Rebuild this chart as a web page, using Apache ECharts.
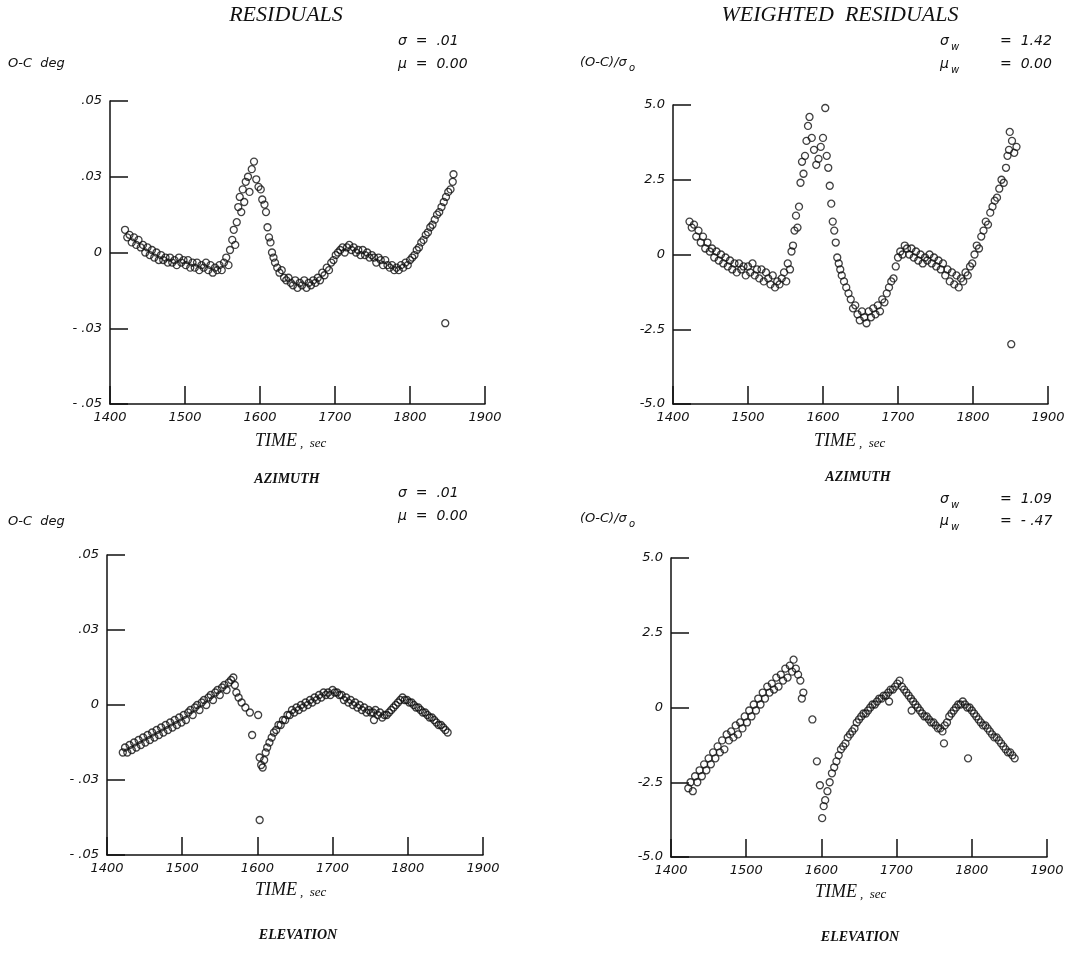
<!DOCTYPE html>
<html><head><meta charset="utf-8">
<script src="https://cdn.jsdelivr.net/npm/echarts@6/dist/echarts.min.js"></script>
<style>html,body{margin:0;padding:0;background:#fff}#c{width:1088px;height:959px}</style>
</head><body><div id="c"></div>
<script>
// ---- tick labels ----
const xTickLabels = ['1400','1500','1600','1700','1800','1900'];
const degTickLabels = ['- .05','- .03','0','.03','.05'];
const wTickLabels = ['-5.0','-2.5','0','2.5','5.0'];

// ---- data: [time sec, residual] ----
const azRes = [[1420,0.009],[1423,0.006],[1426,0.007],[1429,0.004],[1432,0.006],[1435,0.003],[1438,0.005],[1441,0.002],[1444,0.003],[1447,0.000],[1450,0.002],[1453,-0.001],[1456,0.001],[1459,-0.002],[1462,0.000],[1465,-0.003],[1468,-0.001],[1471,-0.003],[1474,-0.002],[1477,-0.004],[1480,-0.002],[1483,-0.004],[1486,-0.003],[1489,-0.005],[1492,-0.002],[1495,-0.004],[1498,-0.003],[1501,-0.005],[1504,-0.003],[1507,-0.006],[1510,-0.004],[1513,-0.006],[1516,-0.004],[1519,-0.007],[1522,-0.005],[1525,-0.006],[1528,-0.004],[1531,-0.007],[1534,-0.005],[1537,-0.008],[1540,-0.006],[1543,-0.007],[1546,-0.005],[1549,-0.007],[1552,-0.004],[1555,-0.002],[1558,-0.005],[1560,0.001],[1563,0.005],[1565,0.009],[1567,0.003],[1569,0.012],[1571,0.018],[1573,0.022],[1575,0.016],[1577,0.025],[1579,0.020],[1581,0.028],[1584,0.030],[1586,0.024],[1589,0.033],[1592,0.036],[1595,0.029],[1598,0.026],[1601,0.025],[1603,0.021],[1606,0.019],[1608,0.016],[1610,0.010],[1612,0.006],[1614,0.004],[1616,0.000],[1618,-0.002],[1620,-0.004],[1623,-0.006],[1626,-0.008],[1629,-0.007],[1632,-0.010],[1635,-0.011],[1638,-0.010],[1641,-0.012],[1644,-0.013],[1647,-0.011],[1650,-0.014],[1653,-0.012],[1656,-0.013],[1659,-0.011],[1662,-0.014],[1665,-0.012],[1668,-0.013],[1671,-0.011],[1674,-0.012],[1677,-0.010],[1680,-0.011],[1683,-0.008],[1686,-0.009],[1689,-0.006],[1692,-0.007],[1695,-0.004],[1698,-0.003],[1701,-0.001],[1704,0.000],[1707,0.001],[1710,0.002],[1713,0.000],[1716,0.002],[1719,0.003],[1722,0.001],[1725,0.002],[1728,0.000],[1731,0.001],[1734,-0.001],[1737,0.001],[1740,-0.001],[1743,0.000],[1746,-0.002],[1749,-0.001],[1752,-0.002],[1755,-0.004],[1758,-0.002],[1761,-0.003],[1764,-0.005],[1767,-0.003],[1770,-0.005],[1773,-0.006],[1776,-0.005],[1779,-0.007],[1782,-0.006],[1785,-0.007],[1788,-0.005],[1791,-0.006],[1794,-0.004],[1797,-0.005],[1800,-0.003],[1803,-0.002],[1806,-0.001],[1809,0.001],[1812,0.002],[1815,0.004],[1818,0.005],[1821,0.007],[1824,0.008],[1827,0.010],[1830,0.011],[1833,0.013],[1836,0.015],[1839,0.016],[1842,0.018],[1845,0.020],[1848,0.022],[1851,0.024],[1854,0.025],[1857,0.028],[1858,0.031],[1847,-0.028]];

const azWRes = [[1422,1.1],[1425,0.9],[1428,1.0],[1431,0.6],[1434,0.8],[1437,0.4],[1440,0.6],[1443,0.2],[1446,0.4],[1449,0.1],[1452,0.2],[1455,-0.1],[1458,0.1],[1461,-0.2],[1464,0.0],[1467,-0.3],[1470,-0.1],[1473,-0.4],[1476,-0.2],[1479,-0.5],[1482,-0.3],[1485,-0.6],[1488,-0.3],[1491,-0.5],[1494,-0.4],[1497,-0.7],[1500,-0.4],[1503,-0.6],[1506,-0.3],[1509,-0.7],[1512,-0.5],[1515,-0.8],[1518,-0.5],[1521,-0.9],[1524,-0.6],[1527,-0.8],[1530,-1.0],[1533,-0.7],[1536,-1.1],[1539,-0.9],[1542,-1.0],[1545,-0.8],[1548,-0.6],[1551,-0.9],[1553,-0.3],[1556,-0.5],[1558,0.1],[1560,0.3],[1562,0.8],[1564,1.3],[1566,0.9],[1568,1.6],[1570,2.4],[1572,3.1],[1574,2.7],[1576,3.3],[1578,3.8],[1580,4.3],[1582,4.6],[1585,3.9],[1588,3.5],[1591,3.0],[1594,3.2],[1597,3.6],[1600,3.9],[1603,4.9],[1605,3.3],[1607,2.9],[1609,2.3],[1611,1.7],[1613,1.1],[1615,0.8],[1617,0.4],[1619,-0.1],[1621,-0.3],[1623,-0.5],[1625,-0.7],[1628,-0.9],[1631,-1.1],[1634,-1.3],[1637,-1.5],[1640,-1.8],[1643,-1.7],[1646,-2.0],[1649,-2.2],[1652,-1.9],[1655,-2.1],[1658,-2.3],[1661,-1.9],[1664,-2.1],[1667,-1.8],[1670,-2.0],[1673,-1.7],[1676,-1.9],[1679,-1.5],[1682,-1.6],[1685,-1.3],[1688,-1.1],[1691,-0.9],[1694,-0.8],[1697,-0.4],[1700,-0.1],[1703,0.1],[1706,0.0],[1709,0.3],[1712,0.2],[1715,0.0],[1718,0.2],[1721,-0.1],[1724,0.1],[1727,-0.2],[1730,0.0],[1733,-0.3],[1736,-0.1],[1739,-0.2],[1742,0.0],[1745,-0.3],[1748,-0.1],[1751,-0.4],[1754,-0.2],[1757,-0.5],[1760,-0.3],[1763,-0.7],[1766,-0.5],[1769,-0.9],[1772,-0.6],[1775,-1.0],[1778,-0.7],[1781,-1.1],[1784,-0.8],[1787,-0.9],[1790,-0.6],[1793,-0.7],[1796,-0.4],[1799,-0.3],[1802,0.0],[1805,0.3],[1808,0.2],[1811,0.6],[1814,0.8],[1817,1.1],[1820,1.0],[1823,1.4],[1826,1.6],[1829,1.8],[1832,1.9],[1835,2.2],[1838,2.5],[1841,2.4],[1844,2.9],[1846,3.3],[1848,3.5],[1849,4.1],[1852,3.8],[1855,3.4],[1858,3.6],[1851,-3.0]];

const elRes = [[1421,-0.019],[1424,-0.017],[1427,-0.019],[1430,-0.016],[1433,-0.018],[1436,-0.015],[1439,-0.017],[1442,-0.014],[1445,-0.016],[1448,-0.013],[1451,-0.015],[1454,-0.012],[1457,-0.014],[1460,-0.011],[1463,-0.013],[1466,-0.010],[1469,-0.012],[1472,-0.009],[1475,-0.011],[1478,-0.008],[1481,-0.010],[1484,-0.007],[1487,-0.009],[1490,-0.006],[1493,-0.008],[1496,-0.005],[1499,-0.007],[1502,-0.004],[1505,-0.006],[1508,-0.003],[1511,-0.002],[1514,-0.004],[1517,-0.001],[1520,0.000],[1523,-0.002],[1526,0.001],[1529,0.002],[1532,0.000],[1535,0.003],[1538,0.004],[1541,0.002],[1544,0.005],[1547,0.006],[1550,0.004],[1553,0.007],[1556,0.008],[1559,0.006],[1562,0.009],[1565,0.010],[1568,0.011],[1570,0.008],[1572,0.005],[1575,0.003],[1579,0.001],[1584,-0.001],[1590,-0.003],[1593,-0.012],[1601,-0.004],[1603,-0.021],[1605,-0.024],[1607,-0.025],[1609,-0.022],[1611,-0.019],[1613,-0.017],[1616,-0.015],[1619,-0.013],[1622,-0.011],[1625,-0.010],[1628,-0.008],[1631,-0.008],[1634,-0.006],[1637,-0.006],[1640,-0.004],[1643,-0.004],[1646,-0.002],[1649,-0.003],[1652,-0.001],[1655,-0.002],[1658,0.000],[1661,-0.001],[1664,0.001],[1667,0.000],[1670,0.002],[1673,0.001],[1676,0.003],[1679,0.002],[1682,0.004],[1685,0.003],[1688,0.005],[1691,0.004],[1694,0.005],[1697,0.004],[1700,0.006],[1703,0.005],[1706,0.005],[1709,0.004],[1712,0.004],[1715,0.002],[1718,0.003],[1721,0.001],[1724,0.002],[1727,0.000],[1730,0.001],[1733,-0.001],[1736,0.000],[1739,-0.002],[1742,-0.001],[1745,-0.003],[1748,-0.002],[1751,-0.003],[1754,-0.003],[1757,-0.002],[1760,-0.004],[1763,-0.003],[1766,-0.005],[1769,-0.004],[1772,-0.004],[1775,-0.003],[1778,-0.002],[1781,-0.001],[1784,0.000],[1787,0.001],[1790,0.002],[1793,0.003],[1796,0.002],[1799,0.002],[1802,0.001],[1805,0.001],[1808,0.000],[1811,-0.001],[1814,-0.001],[1817,-0.002],[1820,-0.003],[1823,-0.003],[1826,-0.004],[1829,-0.005],[1832,-0.005],[1835,-0.006],[1838,-0.007],[1841,-0.008],[1844,-0.008],[1847,-0.009],[1850,-0.010],[1853,-0.011],[1755,-0.006],[1603,-0.046]];

const elWRes = [[1423,-2.7],[1426,-2.5],[1429,-2.8],[1432,-2.3],[1435,-2.5],[1438,-2.1],[1441,-2.3],[1444,-1.9],[1447,-2.1],[1450,-1.7],[1453,-1.9],[1456,-1.5],[1459,-1.7],[1462,-1.3],[1465,-1.5],[1468,-1.1],[1471,-1.4],[1474,-0.9],[1477,-1.1],[1480,-0.8],[1483,-1.0],[1486,-0.6],[1489,-0.9],[1492,-0.5],[1495,-0.7],[1498,-0.3],[1501,-0.5],[1504,-0.1],[1507,-0.3],[1510,0.1],[1513,-0.1],[1516,0.3],[1519,0.1],[1522,0.5],[1525,0.3],[1528,0.7],[1531,0.5],[1534,0.8],[1537,0.6],[1540,1.0],[1543,0.7],[1546,1.1],[1549,0.9],[1552,1.3],[1555,1.0],[1558,1.4],[1561,1.2],[1563,1.6],[1566,1.3],[1569,1.1],[1572,0.9],[1574,0.3],[1576,0.5],[1588,-0.4],[1594,-1.8],[1598,-2.6],[1601,-3.7],[1603,-3.3],[1605,-3.1],[1608,-2.8],[1611,-2.5],[1614,-2.2],[1617,-2.0],[1620,-1.8],[1623,-1.6],[1626,-1.4],[1629,-1.3],[1632,-1.2],[1635,-1.0],[1638,-0.9],[1641,-0.8],[1644,-0.7],[1647,-0.5],[1650,-0.4],[1653,-0.3],[1656,-0.2],[1659,-0.2],[1662,-0.1],[1665,0.0],[1668,0.1],[1671,0.1],[1674,0.2],[1677,0.3],[1680,0.3],[1683,0.4],[1686,0.4],[1689,0.5],[1692,0.6],[1695,0.6],[1698,0.7],[1701,0.8],[1704,0.9],[1707,0.7],[1710,0.6],[1713,0.5],[1716,0.4],[1719,0.3],[1722,0.2],[1725,0.1],[1728,0.0],[1731,-0.1],[1734,-0.2],[1737,-0.3],[1740,-0.3],[1743,-0.4],[1746,-0.5],[1749,-0.5],[1752,-0.6],[1755,-0.7],[1758,-0.7],[1761,-0.8],[1764,-0.6],[1767,-0.5],[1770,-0.3],[1773,-0.2],[1776,-0.1],[1779,0.0],[1782,0.1],[1785,0.1],[1788,0.2],[1791,0.1],[1794,0.0],[1797,0.0],[1800,-0.1],[1803,-0.2],[1806,-0.3],[1809,-0.4],[1812,-0.5],[1815,-0.6],[1818,-0.6],[1821,-0.7],[1824,-0.8],[1827,-0.9],[1830,-1.0],[1833,-1.0],[1836,-1.1],[1839,-1.2],[1842,-1.3],[1845,-1.4],[1848,-1.5],[1851,-1.5],[1854,-1.6],[1857,-1.7],[1795,-1.7],[1763,-1.2],[1690,0.2],[1720,-0.1]];

const ink = '#111';
const grids = [
  {left:110, top:101, width:375, height:303},
  {left:673, top:105, width:375, height:299},
  {left:107, top:555, width:376, height:300},
  {left:671, top:558, width:376, height:299}
];
function xAx(i){
  return {gridIndex:i, type:'value', min:1400, max:1900, interval:100,
    axisLine:{onZero:false, lineStyle:{color:ink, width:1.5}},
    axisTick:{inside:true, length:18, lineStyle:{color:ink, width:1.5}},
    axisLabel:{color:ink, fontFamily:'DejaVu Sans', fontStyle:'italic', fontSize:13, margin:7,
      formatter:v=>xTickLabels[Math.round((v-1400)/100)]},
    splitLine:{show:false}};
}
function yAx(i, min, step, labels){
  return {gridIndex:i, type:'value', min:min, max:-min, interval:step,
    axisLine:{onZero:false, lineStyle:{color:ink, width:1.5}},
    axisTick:{inside:true, length:18, lineStyle:{color:ink, width:1.5}},
    axisLabel:{color:ink, fontFamily:'DejaVu Sans', fontStyle:'italic', fontSize:13, margin:8,
      formatter:v=>labels[Math.round((v-min)/step)]},
    splitLine:{show:false}};
}
function ser(i, data){
  return {type:'scatter', xAxisIndex:i, yAxisIndex:i, data:data, symbol:'circle', symbolSize:7,
    itemStyle:{color:'rgba(0,0,0,0)', borderColor:ink, borderWidth:1.3}, silent:true};
}
const serif = 'italic 22px "Liberation Serif"';
const timeF = 'italic 18px "Liberation Serif"';
const secF = 'italic 13px "Liberation Serif"';
const serifB = 'italic bold 14px "Liberation Serif"';
const sansI = 'italic 14px "DejaVu Sans"';
const sansS = 'italic 10px "DejaVu Sans"';
const labI = 'italic 13px "DejaVu Sans"';
function t(x, y, text, font, align){
  return {type:'text', x:x, y:y, style:{text:text, font:font, fill:ink, textAlign:align||'left', textVerticalAlign:'top'}};
}
const graphic = [
  t(286, 4, 'RESIDUALS', serif, 'center'),
  t(840, 4, 'WEIGHTED  RESIDUALS', serif, 'center'),
  // top-left stats
  t(398, 34, 'σ  =  .01', sansI), t(398, 57, 'μ  =  0.00', sansI),
  t(8, 57, 'O-C  deg', labI),
  // top-right
  t(580, 56, '(O-C)/σ', labI), t(629, 63, 'o', sansS),
  t(940, 34, 'σ', sansI), t(951, 42, 'w', sansS), t(1000, 34, '=  1.42', sansI),
  t(940, 57, 'μ', sansI), t(951, 65, 'w', sansS), t(1000, 57, '=  0.00', sansI),
  // x titles top
  t(297, 432, 'TIME', timeF, 'right'), t(300, 437, ',  sec', secF),
  t(856, 432, 'TIME', timeF, 'right'), t(859, 437, ',  sec', secF),
  t(287, 472, 'AZIMUTH', serifB, 'center'),
  t(858, 470, 'AZIMUTH', serifB, 'center'),
  // bottom-left stats
  t(398, 486, 'σ  =  .01', sansI), t(398, 509, 'μ  =  0.00', sansI),
  t(8, 515, 'O-C  deg', labI),
  // bottom-right
  t(580, 512, '(O-C)/σ', labI), t(629, 519, 'o', sansS),
  t(940, 492, 'σ', sansI), t(951, 500, 'w', sansS), t(1000, 492, '=  1.09', sansI),
  t(940, 514, 'μ', sansI), t(951, 522, 'w', sansS), t(1000, 514, '=  - .47', sansI),
  t(297, 881, 'TIME', timeF, 'right'), t(300, 886, ',  sec', secF),
  t(857, 883, 'TIME', timeF, 'right'), t(860, 888, ',  sec', secF),
  t(298, 928, 'ELEVATION', serifB, 'center'),
  t(860, 930, 'ELEVATION', serifB, 'center')
];
const chart = echarts.init(document.getElementById('c'), null, {renderer:'canvas'});
chart.setOption({
  animation:false,
  backgroundColor:'#fff',
  grid:grids,
  xAxis:[xAx(0), xAx(1), xAx(2), xAx(3)],
  yAxis:[yAx(0,-0.06,0.03,degTickLabels), yAx(1,-5,2.5,wTickLabels), yAx(2,-0.06,0.03,degTickLabels), yAx(3,-5,2.5,wTickLabels)],
  series:[ser(0, azRes), ser(1, azWRes), ser(2, elRes), ser(3, elWRes)],
  graphic:graphic
});
</script>
</body></html>
